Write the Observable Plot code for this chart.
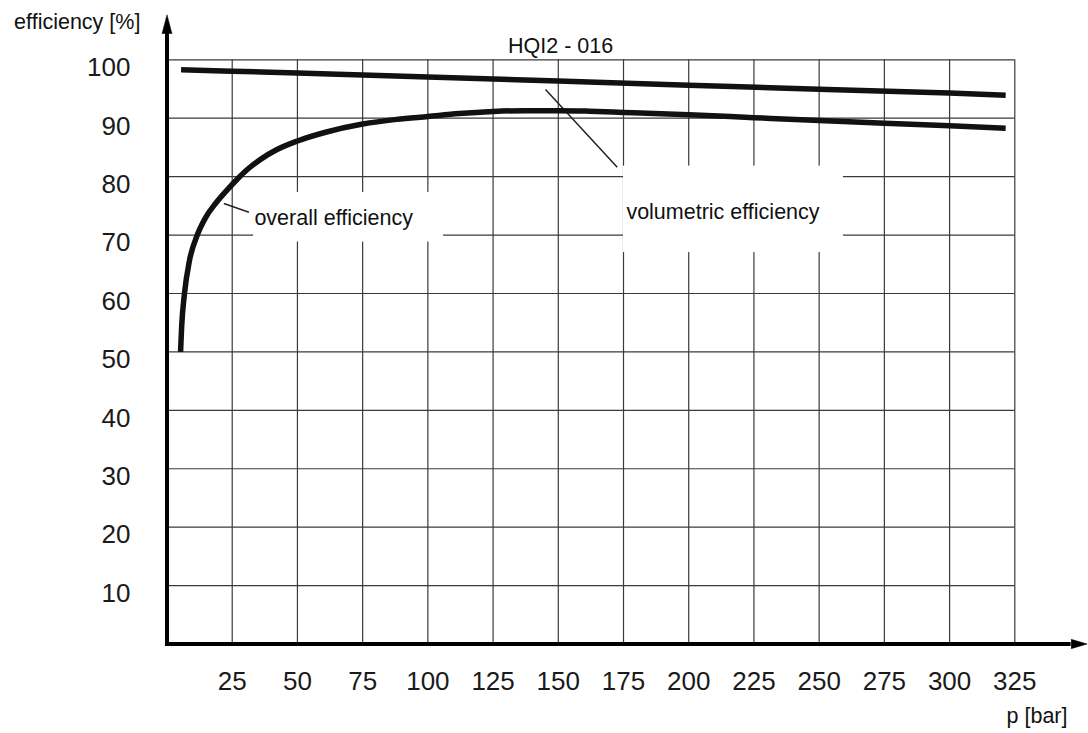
<!DOCTYPE html>
<html>
<head>
<meta charset="utf-8">
<script src="https://cdn.jsdelivr.net/npm/d3@7"></script>
<script src="https://cdn.jsdelivr.net/npm/@observablehq/plot@0.6"></script>
<style>
  html, body { margin: 0; padding: 0; background: #fff; }
  #chart { width: 1088px; height: 733px; }
</style>
</head>
<body>
<div id="chart"></div>
<script>
// ---- data ----
const xTicks = [25, 50, 75, 100, 125, 150, 175, 200, 225, 250, 275, 300, 325];
const yTicks = [10, 20, 30, 40, 50, 60, 70, 80, 90, 100];

const overallPressure = [5.2, 5.6, 6.7, 8.6, 11.6, 14.8, 18.6, 23, 27, 31, 36, 42, 50, 60.8, 75, 88, 100, 112, 125, 137, 150, 162, 175, 200, 225, 250, 275, 300, 321.5];
const overallEfficiency = [50, 54.2, 60, 65.6, 70, 73.0, 75.4, 77.7, 79.6, 81.3, 83.0, 84.6, 86.1, 87.6, 89, 89.8, 90.3, 90.8, 91.15, 91.3, 91.3, 91.2, 91.0, 90.6, 90.1, 89.6, 89.15, 88.7, 88.3];

const volumetricPressure = [5.4, 25, 50, 75, 100, 150, 200, 250, 300, 321.5];
const volumetricEfficiency = [98.3, 98.05, 97.75, 97.4, 97.05, 96.35, 95.65, 94.95, 94.3, 93.95];

const chartTitle = "HQI2 - 016";
const yLabel = "efficiency [%]";
const xLabel = "p [bar]";
const seriesLabels = ["overall efficiency", "volumetric efficiency"];

// annotation anchors (data units)
const labelBoxes = [
  {x1: 33.2, x2: 106, y1: 68.8, y2: 77.3},
  {x1: 175, x2: 259.3, y1: 67.0, y2: 81.8}
];
const labelAnchors = [
  {x: 33.5, y: 72.9},
  {x: 176.1, y: 74.0}
];
const leaders = [
  {x1: 21.8, y1: 75.4, x2: 31.4, y2: 73.9},
  {x1: 145.1, y1: 94.9, x2: 172.6, y2: 81.6}
];

// ---- build tables ----
const overall = overallPressure.map((p, i) => ({p, e: overallEfficiency[i]}));
const volumetric = volumetricPressure.map((p, i) => ({p, e: volumetricEfficiency[i]}));
const labels = seriesLabels.map((t, i) => ({t, ...labelAnchors[i]}));

const font = "'Liberation Sans', Arial, Helvetica, sans-serif";
const ink = "#111";
const gridInk = "#3a3a3a";

const chart = Plot.plot({
  width: 1088,
  height: 733,
  marginLeft: 166.5,
  marginRight: 73.7,
  marginTop: 59.3,
  marginBottom: 89.5,
  style: {fontFamily: font, background: "#fff", color: ink, overflow: "visible"},
  x: {domain: [0, 325]},
  y: {domain: [0, 100]},
  marks: [
    // grid
    Plot.ruleX(xTicks, {y1: 0, y2: 100, stroke: gridInk, strokeWidth: 1.2}),
    Plot.ruleY(yTicks, {x1: 0, x2: 325, stroke: gridInk, strokeWidth: 1.2}),
    // white label boxes masking the grid
    Plot.rect(labelBoxes, {x1: "x1", x2: "x2", y1: "y1", y2: "y2", fill: "#fff"}),
    // leader lines
    Plot.link(leaders, {x1: "x1", y1: "y1", x2: "x2", y2: "y2", stroke: "#222", strokeWidth: 1.5}),
    // curves
    Plot.line(volumetric, {x: "p", y: "e", stroke: ink, strokeWidth: 5.5, curve: "monotone-x", strokeLinecap: "butt"}),
    Plot.line(overall, {x: "p", y: "e", stroke: ink, strokeWidth: 5.5, curve: "monotone-x", strokeLinecap: "butt"}),
    // series labels
    Plot.text(labels, {x: "x", y: "y", text: "t", textAnchor: "start", fontSize: 21.5, fill: ink}),
    // title & axis labels
    Plot.text([chartTitle], {x: 150.9, y: 102.4, fontSize: 21.5, fill: ink}),
    Plot.text([yLabel], {x: -10.2, y: 106.45, textAnchor: "end", fontSize: 21.5, fill: ink}),
    Plot.text([xLabel], {x: 345.2, y: -12.3, textAnchor: "end", fontSize: 21.5, fill: ink}),
    // tick labels
    Plot.axisX({ticks: xTicks, tickSize: 0, tickPadding: 28, fontSize: 26, label: null, fill: "#1a1a1a"}),
    Plot.axisY({ticks: yTicks, tickSize: 0, tickPadding: 36.5, fontSize: 26, dy: 8, label: null, fill: "#1a1a1a"}),
    // axis lines with arrows
    Plot.ruleY([0], {x1: -0.6, x2: 346.6, stroke: "#000", strokeWidth: 4}),
    Plot.ruleX([0], {y1: 0, y2: 104.45, stroke: "#000", strokeWidth: 4, strokeLinecap: "square"}),
    Plot.vector([0], {x: 0, y: 104.45, length: 19, r: 5, rotate: 0, shape: "spike", anchor: "start", fill: "#000", stroke: "#000", strokeWidth: 0.5}),
    Plot.vector([0], {x: 346.6, y: 0, length: 16, r: 4.7, rotate: 90, shape: "spike", anchor: "start", fill: "#000", stroke: "#000", strokeWidth: 0.5})
  ]
});

document.getElementById("chart").append(chart);
</script>
</body>
</html>
